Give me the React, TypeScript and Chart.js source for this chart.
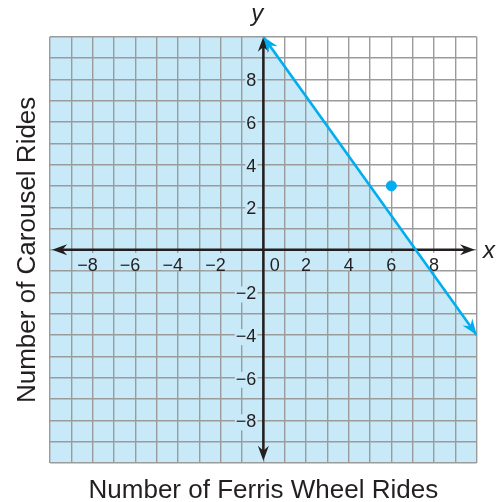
import React, { useEffect, useRef } from "react";
import { Chart, registerables } from "chart.js";

Chart.register(...registerables);

// ---- data ----
const xRange = [-10, 10];
const yRange = [-10, 10];
const xTickValues = [-8, -6, -4, -2, 2, 4, 6, 8];
const yTickValues = [8, 6, 4, 2, -2, -4, -6, -8];
const originLabel = "0";
const boundaryX = [0, 10];
const boundaryY = [10, -4];
const shadeX = [-10, 0, 10, 10, -10];
const shadeY = [10, 10, -4, -10, -10];
const pointX = [6];
const pointY = [3];
const xAxisEnds = [-9.9, 9.92];
const yAxisEnds = [-9.9, 10];
const xTitle = "Number of Ferris Wheel Rides";
const yTitle = "Number of Carousel Rides";

const FILL = "#c8e9f8";
const CYAN = "#00aeef";
const GRID = "#9b9b9b";
const INK = "#231f20";
const FONT = "Liberation Sans, Arial, sans-serif";

function fmt(v: number) {
  return v < 0 ? "\u2212" + Math.abs(v) : String(v);
}

function arrowHead(ctx: CanvasRenderingContext2D, tx: number, ty: number, ang: number, len: number, hw: number, color: string) {
  ctx.save();
  ctx.translate(tx, ty);
  ctx.rotate(ang);
  ctx.beginPath();
  ctx.moveTo(0, 0);
  ctx.lineTo(-len, -hw);
  ctx.lineTo(-len * 0.68, 0);
  ctx.lineTo(-len, hw);
  ctx.closePath();
  ctx.fillStyle = color;
  ctx.fill();
  ctx.restore();
}

const drawPlugin = {
  id: "mathPlot",
  beforeDraw(chart: any) {
    const ctx = chart.ctx as CanvasRenderingContext2D;
    const xs = chart.scales.x;
    const ys = chart.scales.y;
    ctx.save();
    ctx.fillStyle = "#ffffff";
    ctx.fillRect(0, 0, chart.width, chart.height);
    ctx.beginPath();
    shadeX.forEach((v, i) => {
      const px = xs.getPixelForValue(v);
      const py = ys.getPixelForValue(shadeY[i]);
      if (i === 0) ctx.moveTo(px, py);
      else ctx.lineTo(px, py);
    });
    ctx.closePath();
    ctx.fillStyle = FILL;
    ctx.fill();
    ctx.restore();
  },
  beforeDatasetsDraw(chart: any) {
    const ctx = chart.ctx as CanvasRenderingContext2D;
    const xs = chart.scales.x;
    const ys = chart.scales.y;
    const x0 = xs.getPixelForValue(0);
    const y0 = ys.getPixelForValue(0);
    const shade = new Path2D();
    shadeX.forEach((v, i) => {
      const px = xs.getPixelForValue(v);
      const py = ys.getPixelForValue(shadeY[i]);
      if (i === 0) shade.moveTo(px, py);
      else shade.lineTo(px, py);
    });
    shade.closePath();
    const bg = (px: number, py: number) => (ctx.isPointInPath(shade, px, py) ? FILL : "#ffffff");

    ctx.save();
    ctx.font = `18px ${FONT}`;
    ctx.textBaseline = "middle";
    const boxTop = y0 + 3;
    const boxBot = ys.getPixelForValue(-1) - 1;
    // x tick labels
    xTickValues.forEach((v) => {
      const gx = xs.getPixelForValue(v);
      const txt = fmt(v);
      const dW = ctx.measureText(String(Math.abs(v))).width;
      const tW = ctx.measureText(txt).width;
      const right = gx + dW / 2;
      const cy = y0 + 16;
      ctx.fillStyle = bg(right - tW / 2, cy);
      ctx.fillRect(right - tW - 1, boxTop, tW + 2, boxBot - boxTop);
      ctx.fillStyle = INK;
      ctx.textAlign = "right";
      ctx.fillText(txt, right, cy);
    });
    // origin label
    {
      const cx = xs.getPixelForValue(0.53);
      const cy = y0 + 16;
      const w = ctx.measureText(originLabel).width;
      ctx.fillStyle = bg(cx, cy);
      ctx.fillRect(cx - w / 2 - 1, boxTop, w + 2, boxBot - boxTop);
      ctx.fillStyle = INK;
      ctx.textAlign = "center";
      ctx.fillText(originLabel, cx, cy);
    }
    // y tick labels
    yTickValues.forEach((v) => {
      const gy = ys.getPixelForValue(v) + 2;
      const txt = fmt(v);
      const tW = ctx.measureText(txt).width;
      const right = x0 - 7;
      ctx.fillStyle = bg(right - tW / 2, gy);
      ctx.fillRect(right - tW - 1, gy - 8, tW + 2, 16);
      ctx.fillStyle = INK;
      ctx.textAlign = "right";
      ctx.fillText(txt, right, gy);
    });

    // black axes
    ctx.strokeStyle = INK;
    ctx.lineWidth = 2.5;
    const xl = xs.getPixelForValue(xAxisEnds[0]);
    const xr = xs.getPixelForValue(xAxisEnds[1]);
    ctx.beginPath();
    ctx.moveTo(xl + 6, y0);
    ctx.lineTo(xr - 6, y0);
    ctx.stroke();
    arrowHead(ctx, xr, y0, 0, 15, 5.5, INK);
    arrowHead(ctx, xl, y0, Math.PI, 15, 5.5, INK);
    const yt = ys.getPixelForValue(yAxisEnds[1]);
    const yb = ys.getPixelForValue(yAxisEnds[0]);
    ctx.beginPath();
    ctx.moveTo(x0, yt + 6);
    ctx.lineTo(x0, yb - 6);
    ctx.stroke();
    arrowHead(ctx, x0, yt, -Math.PI / 2, 15, 5.5, INK);
    arrowHead(ctx, x0, yb, Math.PI / 2, 15, 5.5, INK);
    ctx.restore();
  },
  afterDatasetsDraw(chart: any) {
    const ctx = chart.ctx as CanvasRenderingContext2D;
    const xs = chart.scales.x;
    const ys = chart.scales.y;
    const ax = xs.getPixelForValue(boundaryX[0]);
    const ay = ys.getPixelForValue(boundaryY[0]);
    const bx = xs.getPixelForValue(boundaryX[1]);
    const by = ys.getPixelForValue(boundaryY[1]);
    const ang = Math.atan2(by - ay, bx - ax);
    arrowHead(ctx, bx, by, ang, 16, 6, CYAN);
    arrowHead(ctx, ax, ay, ang + Math.PI, 16, 6, CYAN);

    ctx.save();
    ctx.fillStyle = INK;
    ctx.font = `italic 24px ${FONT}`;
    ctx.textBaseline = "alphabetic";
    ctx.textAlign = "center";
    ctx.fillText("y", xs.getPixelForValue(0) - 6, 20.5);
    ctx.textAlign = "left";
    ctx.fillText("x", 483, ys.getPixelForValue(0) + 8.5);

    ctx.font = `26px ${FONT}`;
    ctx.textAlign = "center";
    ctx.fillText(xTitle, (chart.chartArea.left + chart.chartArea.right) / 2, 498);
    ctx.translate(35, (chart.chartArea.top + chart.chartArea.bottom) / 2);
    ctx.rotate(-Math.PI / 2);
    ctx.fillText(yTitle, 0, 0);
    ctx.restore();
  },
};

export default function App() {
  const ref = useRef<HTMLCanvasElement | null>(null);
  useEffect(() => {
    if (!ref.current) return;
    const chart = new Chart(ref.current, {
      type: "scatter",
      data: {
        datasets: [
          {
            type: "line",
            data: boundaryX.map((x, i) => ({ x, y: boundaryY[i] })),
            borderColor: CYAN,
            borderWidth: 2.6,
            pointRadius: 0,
            fill: false,
          } as any,
          {
            type: "scatter",
            data: pointX.map((x, i) => ({ x, y: pointY[i] })),
            backgroundColor: CYAN,
            borderColor: CYAN,
            pointRadius: 5,
          },
        ],
      },
      options: {
        animation: false,
        responsive: true,
        maintainAspectRatio: false,
        layout: { padding: { left: 50, right: 25.3, top: 36.7, bottom: 39 } },
        plugins: { legend: { display: false }, tooltip: { enabled: false } },
        scales: {
          x: {
            type: "linear",
            min: xRange[0],
            max: xRange[1],
            ticks: { stepSize: 1, display: false, autoSkip: false },
            grid: { color: GRID, lineWidth: 1.4, drawTicks: false },
            border: { display: false },
            afterFit: (s: any) => {
              s.height = 0;
            },
          },
          y: {
            type: "linear",
            min: yRange[0],
            max: yRange[1],
            ticks: { stepSize: 1, display: false, autoSkip: false },
            grid: { color: GRID, lineWidth: 1.4, drawTicks: false },
            border: { display: false },
            afterFit: (s: any) => {
              s.width = 0;
            },
          },
        },
      },
      plugins: [drawPlugin],
    });
    return () => chart.destroy();
  }, []);
  return (
    <div style={{ position: "fixed", left: 0, top: 0, width: 502, height: 502, background: "#fff" }}>
      <canvas ref={ref} />
    </div>
  );
}
